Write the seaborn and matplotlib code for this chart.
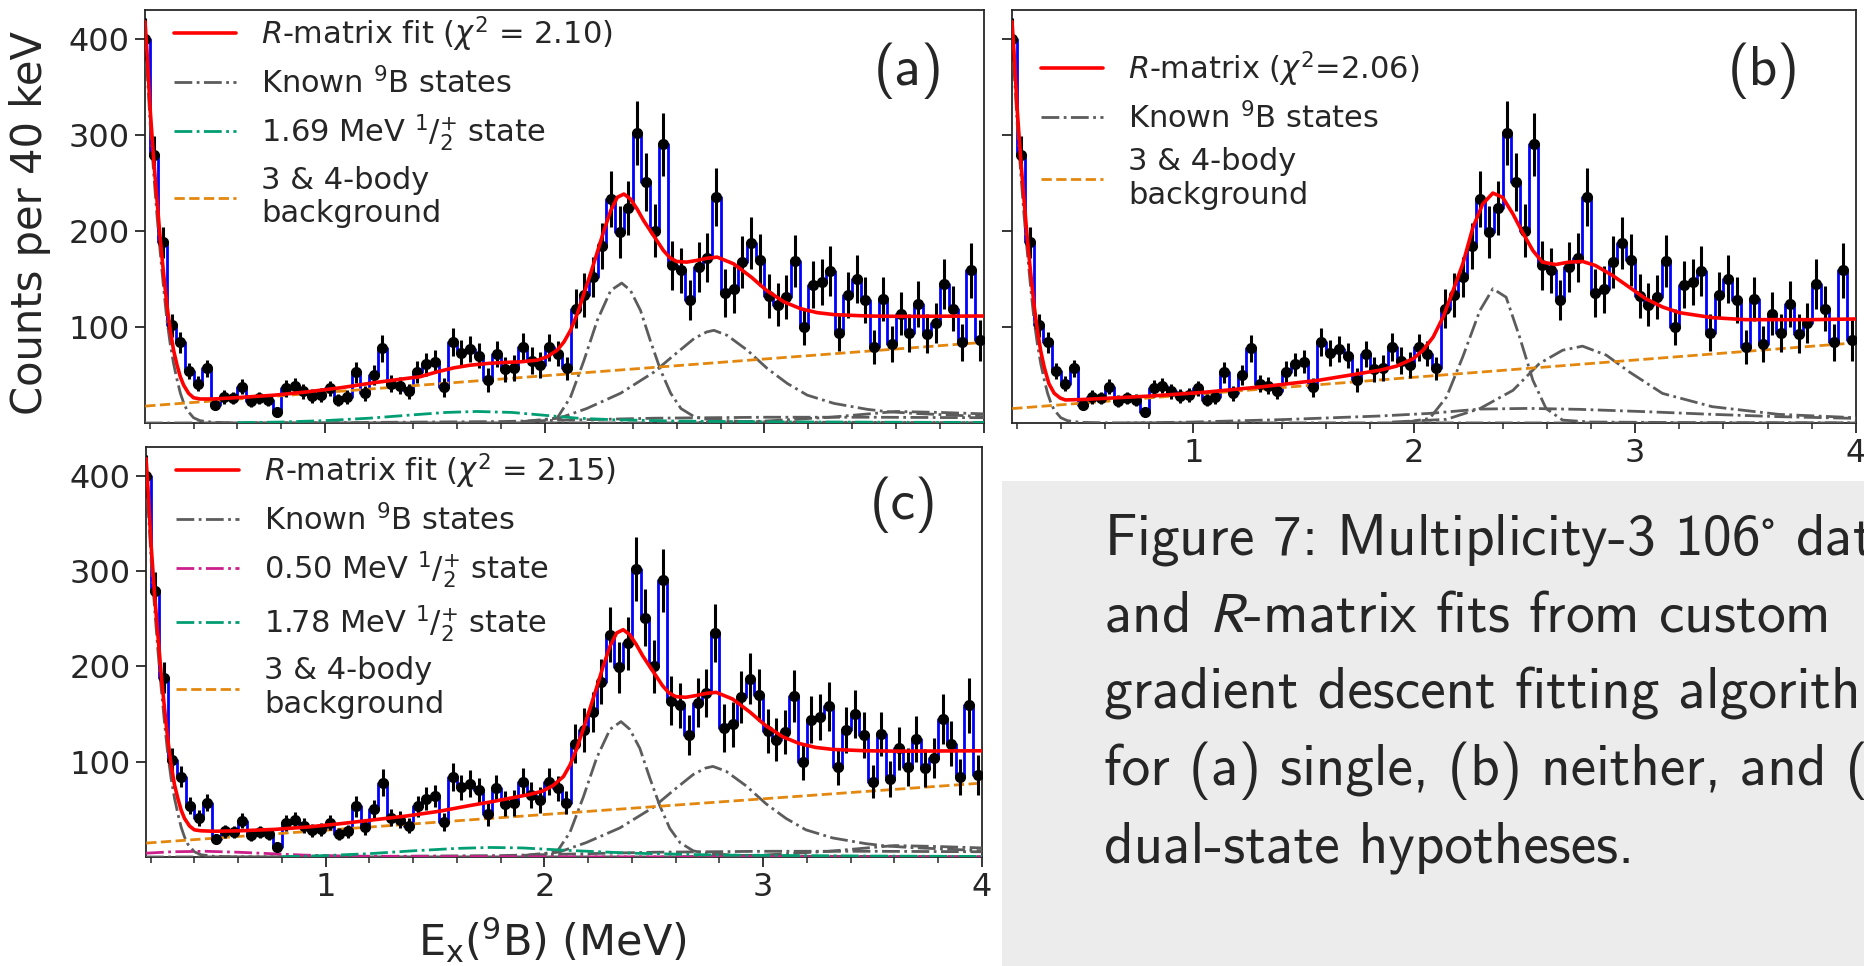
import numpy as np
import pandas as pd
import matplotlib
matplotlib.use("Agg")
import matplotlib.pyplot as plt
from matplotlib.lines import Line2D
from matplotlib.patches import Rectangle
from matplotlib.ticker import MultipleLocator
import seaborn as sns

# ---------------- measured spectrum (40 keV bins) ----------------
BIN_WIDTH = 0.04
FIRST_BIN = 0.18
counts = [400, 279, 188, 102, 84, 54, 41, 57, 19, 27, 26, 38, 23, 26, 24, 11,
          36, 39, 33, 28, 29, 36, 24, 27, 53, 31, 50, 78, 41, 39, 33, 53,
          61, 64, 37, 84, 73, 77, 70, 45, 72, 56, 57, 79, 65, 60, 79, 72,
          57, 119, 133, 152, 184, 233, 199, 224, 302, 251, 200, 290, 164, 159, 128, 162,
          172, 235, 135, 139, 168, 187, 170, 132, 123, 131, 169, 100, 144, 147, 158, 94,
          133, 150, 128, 79, 129, 82, 114, 94, 124, 93, 104, 145, 119, 84, 159, 86]
errors = [22, 19.5, 16, 12, 11, 8.7, 8, 9, 5, 7, 6.5, 7.8, 6, 6.5, 6.5, 5,
          8.5, 8, 7.5, 7, 7, 8, 6.5, 7, 11, 8, 10, 14, 9, 9, 8, 11.5,
          12, 12, 9.5, 14.5, 13.5, 14, 13, 12.5, 13.5, 13, 13.5, 14.5, 14, 13.5, 14, 13,
          12, 20, 23, 21, 24, 29, 27, 28, 33.5, 30, 27.5, 33, 25.5, 23.5, 21, 26,
          25.5, 30, 25, 24, 27, 27, 27, 23, 22.5, 23, 27, 19, 24.5, 24, 26, 19,
          24, 25, 24, 17.5, 23, 19, 22.5, 20, 24, 20, 21, 26, 23.5, 19, 28.5, 21]
energy = np.round(FIRST_BIN + BIN_WIDTH * np.arange(len(counts)), 3)

# ---------------- (a) single-state fit ----------------
fit_a_e = [0.179, 0.188, 0.203, 0.218, 0.234, 0.249, 0.264, 0.279, 0.294, 0.309, 0.325, 0.34,
           0.355, 0.378, 0.40, 0.43, 0.49, 0.61, 0.77, 0.92, 1.07, 1.22, 1.37, 1.43, 1.51,
           1.585, 1.66, 1.74, 1.81, 1.89, 1.965, 2.01, 2.056, 2.087, 2.117, 2.148, 2.178,
           2.208, 2.239, 2.269, 2.30, 2.33, 2.36, 2.39, 2.42, 2.45, 2.48, 2.51, 2.54, 2.57,
           2.60, 2.646, 2.69, 2.74, 2.785, 2.86, 2.94, 3.01, 3.09, 3.165, 3.24, 3.32, 3.47,
           3.62, 4.0]
fit_a = [418, 387, 325, 276, 231, 190, 155, 122.5, 96.5, 75.8, 60.2, 48,
         39.4, 30.8, 26.3, 25, 25, 26.6, 29, 32.5, 36.7, 41.9, 46.4, 48.1, 53.3,
         57.4, 60.2, 62, 63, 63.7, 65.4, 68.9, 75.8, 84.4, 96.5, 113.8, 134.6,
         155.4, 177.9, 200.3, 221.1, 235, 238.4, 233.2, 222.8, 210.7, 200.3, 190, 179.6, 172,
         168.2, 167.5, 169.2, 171.6, 172.7, 165.7, 151.9, 138, 126, 119, 114.9, 112.8, 111.4,
         111, 111.4]

gs_e = [0.179, 0.203, 0.218, 0.234, 0.249, 0.264, 0.279, 0.294, 0.309, 0.325, 0.34, 0.355,
        0.37, 0.40, 0.43, 0.49, 0.6, 4.0]
gs_a = [405, 310, 262, 215, 176, 140, 107, 82, 62, 45, 31, 21, 13.5, 5.5, 2.4, 0.7, 0.2, 0]

p235_e = [1.9, 2.056, 2.117, 2.178, 2.239, 2.30, 2.35, 2.39, 2.436, 2.48, 2.527, 2.573,
          2.62, 2.68, 2.74, 2.9, 3.2, 4.0]
p235_a = [0.5, 5, 27, 65, 107, 138, 145.7, 138, 117, 86, 55, 31, 15, 6.6, 3.8, 1.5, 0.8, 0.3]

p275_e = [1.9, 2.071, 2.19, 2.345, 2.497, 2.588, 2.68, 2.737, 2.77, 2.83, 2.922, 3.013,
          3.104, 3.195, 3.317, 3.469, 3.56, 3.682, 3.849, 4.0]
p275_a = [1.5, 5.5, 15, 31, 53, 70.6, 88, 94.8, 96.5, 91.3, 75.8, 56.7,
          41.2, 29, 20.4, 14.2, 11.8, 10, 8.3, 6.6]

wide_e = [0.179, 1.0, 1.8, 2.0, 2.2, 2.5, 3.0, 3.5, 4.0]
wide_a = [0, 0.3, 1.5, 2.5, 3.5, 5, 6, 6, 5.5]

high_e = [2.6, 3.0, 3.3, 3.6, 3.8, 4.0]
high_a = [0, 2, 6, 12, 11, 9.5]

s169_e = [0.6, 0.8, 1.0, 1.2, 1.4, 1.55, 1.69, 1.85, 2.0, 2.15, 2.3, 2.6, 3.0, 4.0]
s169_a = [0.3, 1, 2.5, 5, 8.5, 11, 12, 11, 8, 5, 3.5, 2, 1.2, 0.5]

bg_e = [0.18, 4.0]
bg_a = [17.6, 84]

# ---------------- (b) no extra state ----------------
fit_b_e = [0.179, 0.188, 0.203, 0.218, 0.234, 0.249, 0.264, 0.279, 0.294, 0.309, 0.325, 0.346,
           0.37, 0.397, 0.42, 0.5, 0.8, 1.05, 1.31, 1.57, 1.70, 1.845, 1.92, 1.996, 2.04,
           2.086, 2.131, 2.176, 2.22, 2.266, 2.31, 2.356, 2.40, 2.447, 2.49, 2.537, 2.58,
           2.64, 2.70, 2.762, 2.82, 2.898, 2.973, 3.048, 3.124, 3.2, 3.349, 3.5, 3.8, 4.0]
fit_b = [418, 387, 325, 276, 231, 190, 155, 122.5, 96.5, 75, 58, 41,
         31, 26, 24, 24.5, 28, 32, 37.7, 44.6, 49.5, 55, 59.2, 67, 75.8,
         89.6, 110.4, 138, 165.7, 203.8, 228, 239.4, 235, 217.6, 198.6, 179.6, 167.5,
         165, 167.5, 168.2, 164, 153.6, 141.5, 129.4, 120.8, 114.9, 109.7, 107.6, 107.6, 108.3]

p235_b_e = [1.95, 2.07, 2.146, 2.22, 2.297, 2.356, 2.416, 2.477, 2.537, 2.597, 2.672, 2.8, 3.2, 4.0]
p235_b = [0.3, 4.8, 27, 69, 117, 139.8, 131, 89.6, 44.6, 15, 3, 1, 0.5, 0.2]

p275_b_e = [1.9, 2.146, 2.297, 2.447, 2.567, 2.672, 2.762, 2.87, 2.973, 3.124, 3.349, 3.65, 4.0]
p275_b = [1, 3.8, 15, 34, 62, 75.8, 80, 70.6, 53.3, 30.8, 17, 9, 5.5]

wide_b_e = [0.7, 1.0, 1.4, 1.845, 2.07, 2.297, 2.52, 2.75, 3.048, 3.349, 3.65, 4.0]
wide_b = [0, 1, 3.5, 7.3, 10, 14.5, 15.2, 14.2, 11.8, 9, 6.6, 4.8]

bg_b = [15, 83.5]

# ---------------- (c) dual-state fit ----------------
fit_c_e = [0.179, 0.188, 0.203, 0.218, 0.234, 0.249, 0.264, 0.279, 0.294, 0.309, 0.325, 0.34,
           0.355, 0.378, 0.40, 0.43, 0.49, 0.61, 0.77, 0.92, 1.07, 1.22, 1.37, 1.52, 1.66,
           1.76, 1.85, 1.93, 1.99, 2.04, 2.087, 2.117, 2.148, 2.178, 2.208, 2.239, 2.269,
           2.30, 2.33, 2.36, 2.39, 2.42, 2.45, 2.48, 2.51, 2.54, 2.57, 2.60, 2.646, 2.69,
           2.74, 2.785, 2.86, 2.94, 3.01, 3.09, 3.165, 3.24, 3.32, 3.47, 3.62, 4.0]
fit_c = [418, 387, 325, 276, 231, 190, 155, 122.5, 96.5, 76, 61, 49,
         40.5, 32.5, 28.5, 27.5, 27, 27.5, 29, 31.5, 35, 39, 43, 48, 54,
         58, 62, 65.5, 69, 75, 84.4, 96.5, 113.8, 134.6, 155.4, 177.9, 200.3,
         221.1, 235, 238.4, 233.2, 222.8, 210.7, 200.3, 190, 179.6, 172, 168.2, 167.5, 169.2,
         171.6, 172.7, 165.7, 151.9, 138, 126, 119, 114.9, 112.8, 111.4, 111, 111.4]

p235_c = [0.5, 5, 26, 63, 104, 134, 142, 134, 114, 84, 54, 30, 15, 6.5, 3.7, 1.5, 0.8, 0.3]
p275_c = [1.5, 5.5, 15, 30.5, 52, 69.5, 86.5, 93.3, 95, 90, 74.6, 55.8,
          40.5, 28.5, 20, 14, 11.6, 9.8, 8.2, 6.5]

s050_e = [0.179, 0.3, 0.45, 0.6, 0.75, 0.9, 1.1, 1.4, 2.0, 4.0]
s050_c = [4, 5.5, 6, 5, 3.5, 2, 1, 0.5, 0.2, 0]

s178_e = [0.8, 1.0, 1.2, 1.4, 1.6, 1.75, 1.9, 2.1, 2.4, 2.8, 3.5, 4.0]
s178_c = [0.3, 1.5, 3.5, 6.5, 9, 10, 9.5, 7, 4, 2, 1, 0.6]

bg_c = [14.6, 77.5]

# ---------------- styling ----------------
sns.set_style("ticks")
plt.rcParams.update({
    "font.family": ["DejaVu Sans"],
    "mathtext.fontset": "dejavusans",
    "axes.linewidth": 1.3,
    "xtick.direction": "out",
    "ytick.direction": "out",
})

C_DATA = "#0000ff"
C_FIT = "#ff0000"
C_KNOWN = "#5c5c5c"
C_GREEN = "#029e73"
C_MAGENTA = "#cc1f8a"
C_BG = "#e3870e"

LEGEND_SIZE = 22
TICK_SIZE = 23

W, H = 1864, 966
fig = plt.figure(figsize=(W / 100, H / 100), dpi=100)


def box(l, t, r, b):
    return [l / W, 1 - b / H, (r - l) / W, (b - t) / H]


ax_a = fig.add_axes(box(145, 10, 984, 423))
ax_b = fig.add_axes(box(1012, 10, 1856, 423))
ax_c = fig.add_axes(box(146, 447, 982, 857))

# caption panel
fig.patches.append(Rectangle((1002 / W, 0), 1 - 1002 / W, (H - 481) / H,
                             transform=fig.transFigure, facecolor="#ececec",
                             edgecolor="none", zorder=0))


def curve(ax, x, y, color, ls, lw=2.0, z=3):
    sns.lineplot(x=x, y=y, ax=ax, color=color, linestyle=ls, linewidth=lw,
                 errorbar=None, legend=False, zorder=z)


def draw_data(ax):
    df = pd.DataFrame({"E": energy, "N": counts})
    sns.lineplot(data=df, x="E", y="N", ax=ax, color=C_DATA, linewidth=2.0,
                 drawstyle="steps-mid", errorbar=None, legend=False, zorder=2)
    ax.errorbar(energy, counts, yerr=errors, fmt="o", color="black", markersize=7,
                elinewidth=2.2, capsize=0, zorder=4)


def style_axes(ax, xlabels, ylabels):
    ax.set_xlim(0.179, 4.0)
    ax.set_ylim(0, 430)
    ax.xaxis.set_major_locator(MultipleLocator(1))
    ax.xaxis.set_minor_locator(MultipleLocator(0.2))
    ax.set_yticks([100, 200, 300, 400])
    ax.tick_params(which="major", length=7, width=1.3, labelsize=TICK_SIZE, pad=4)
    ax.tick_params(which="minor", length=4, width=1.1)
    if not xlabels:
        ax.tick_params(axis="x", labelbottom=False)
    if not ylabels:
        ax.tick_params(axis="y", labelleft=False)
    ax.set_xlabel("")
    ax.set_ylabel("")
    for s in ax.spines.values():
        s.set_visible(True)
        s.set_linewidth(1.3)


def legend(ax, entries, anchor):
    handles = []
    for color, ls, lw, lab in entries:
        handles.append(Line2D([], [], color=color, linestyle=ls, linewidth=lw, label=lab))
    ax.legend(handles=handles, loc="upper left", bbox_to_anchor=anchor, frameon=False,
              fontsize=LEGEND_SIZE, handlelength=2.05, handletextpad=0.82, labelspacing=0.42,
              borderpad=0, borderaxespad=0)


# ---- (a) ----
draw_data(ax_a)
for x, y in [(gs_e, gs_a), (p235_e, p235_a), (p275_e, p275_a), (wide_e, wide_a), (high_e, high_a)]:
    curve(ax_a, x, y, C_KNOWN, "-.", 2.0)
curve(ax_a, s169_e, s169_a, C_GREEN, "-.", 2.0)
curve(ax_a, bg_e, bg_a, C_BG, "--", 2.0)
curve(ax_a, fit_a_e, fit_a, C_FIT, "-", 2.6, z=5)
style_axes(ax_a, False, True)
legend(ax_a, [(C_FIT, "-", 2.6, r"$R$-matrix fit ($\chi^2$ = 2.10)"),
              (C_KNOWN, "-.", 2.0, r"Known $^9$B states"),
              (C_GREEN, "-.", 2.0, r"1.69 MeV $^{1}/_{2}^{+}$ state"),
              (C_BG, "--", 2.0, "3 & 4-body\nbackground")], (0.034, 0.99))

# ---- (b) ----
draw_data(ax_b)
for x, y in [(gs_e, gs_a), (p235_b_e, p235_b), (p275_b_e, p275_b), (wide_b_e, wide_b)]:
    curve(ax_b, x, y, C_KNOWN, "-.", 2.0)
curve(ax_b, bg_e, bg_b, C_BG, "--", 2.0)
curve(ax_b, fit_b_e, fit_b, C_FIT, "-", 2.6, z=5)
style_axes(ax_b, True, False)
legend(ax_b, [(C_FIT, "-", 2.6, r"$R$-matrix ($\chi^2$=2.06)"),
              (C_KNOWN, "-.", 2.0, r"Known $^9$B states"),
              (C_BG, "--", 2.0, "3 & 4-body\nbackground")], (0.034, 0.905))

# ---- (c) ----
draw_data(ax_c)
for x, y in [(gs_e, gs_a), (p235_e, p235_c), (p275_e, p275_c), (wide_e, wide_a), (high_e, high_a)]:
    curve(ax_c, x, y, C_KNOWN, "-.", 2.0)
curve(ax_c, s050_e, s050_c, C_MAGENTA, "-.", 2.0)
curve(ax_c, s178_e, s178_c, C_GREEN, "-.", 2.0)
curve(ax_c, bg_e, bg_c, C_BG, "--", 2.0)
curve(ax_c, fit_c_e, fit_c, C_FIT, "-", 2.6, z=5)
style_axes(ax_c, True, True)
legend(ax_c, [(C_FIT, "-", 2.6, r"$R$-matrix fit ($\chi^2$ = 2.15)"),
              (C_KNOWN, "-.", 2.0, r"Known $^9$B states"),
              (C_MAGENTA, "-.", 2.0, r"0.50 MeV $^{1}/_{2}^{+}$ state"),
              (C_GREEN, "-.", 2.0, r"1.78 MeV $^{1}/_{2}^{+}$ state"),
              (C_BG, "--", 2.0, "3 & 4-body\nbackground")], (0.036, 0.99))

# panel tags
ax_a.text(0.9106, 0.852, "(a)", transform=ax_a.transAxes, ha="center", va="center",
          fontsize=40, family="cmss10")
ax_b.text(0.891, 0.852, "(b)", transform=ax_b.transAxes, ha="center", va="center",
          fontsize=40, family="cmss10")
ax_c.text(0.9067, 0.859, "(c)", transform=ax_c.transAxes, ha="center", va="center",
          fontsize=40, family="cmss10")

# shared axis titles
fig.text(30 / W, 1 - 223 / H, "Counts per 40 keV", rotation=90, ha="center", va="center",
         fontsize=30)
fig.text(552 / W, 1 - 940 / H, r"E$_\mathrm{x}$($^9$B) (MeV)", ha="center", va="center",
         fontsize=31)

# caption
caption = ["Figure 7: Multiplicity-3 106$^{\\circ}$ data",
           "and $\\mathit{R}$-matrix fits from custom",
           "gradient descent fitting algorithm",
           "for (a) single, (b) neither, and (c)",
           "dual-state hypotheses."]
baselines = [555, 631.7, 708, 785, 862]
for line, yb in zip(caption, baselines):
    fig.text(1104 / W, 1 - yb / H, line, ha="left", va="baseline", fontsize=41.3,
             family="cmss10", math_fontfamily="stixsans")

fig.savefig("out.png", dpi=100)
